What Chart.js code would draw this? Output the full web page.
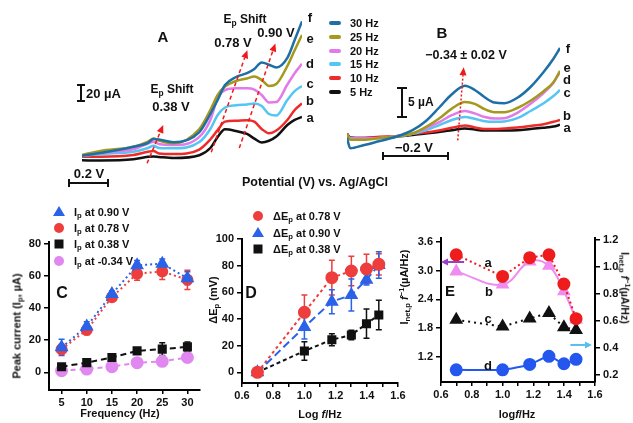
<!DOCTYPE html>
<html>
<head>
<meta charset="utf-8">
<script src="https://cdn.jsdelivr.net/npm/chart.js@4.4.0/dist/chart.umd.min.js"></script>
<style>
  html, body { margin: 0; padding: 0; background: #fff; }
  #fig { position: relative; width: 633px; height: 423px; overflow: hidden;
         font-family: "Liberation Sans", Arial, sans-serif; font-weight: bold; color: #111; }
  canvas { position: absolute; }
  .t { position: absolute; white-space: nowrap; transform: translate(-50%, -50%); line-height: 1; }
  .l { position: absolute; white-space: nowrap; transform: translate(0, -50%); line-height: 1; }
  .rl { transform: translate(-50%, -50%) rotate(-90deg); }
  .rr { transform: translate(-50%, -50%) rotate(90deg); }
  sub { font-size: 70%; vertical-align: -0.3em; line-height: 0; }
  sup { font-size: 70%; vertical-align: 0.5em; line-height: 0; }
  .sw { position: absolute; width: 12px; height: 4px; border-radius: 2px; transform: translate(0, -50%); }
  .mk { position: absolute; transform: translate(-50%, -50%); }
  .circ { width: 10px; height: 10px; border-radius: 50%; }
  .sq { width: 9px; height: 9px; }
  .tri { width: 0; height: 0; border-left: 6px solid transparent; border-right: 6px solid transparent; border-bottom: 10px solid; }
  .bar { position: absolute; background: #111; }
</style>
</head>
<body>
<div id="fig">
  <canvas id="cA" width="260" height="190" style="left:60px;top:0px"></canvas>
  <canvas id="cB" width="300" height="170" style="left:330px;top:0px"></canvas>
  <canvas id="cC" width="210" height="223" style="left:0px;top:200px"></canvas>
  <canvas id="cD" width="210" height="223" style="left:210px;top:200px"></canvas>
  <canvas id="cE" width="223" height="223" style="left:410px;top:200px"></canvas>

  <!-- panel A texts -->
  <div class="t" style="left:163px;top:36px;font-size:15px">A</div>
  <div class="bar" style="left:80px;top:84px;width:2px;height:18px"></div>
  <div class="bar" style="left:77px;top:84px;width:8px;height:2px"></div>
  <div class="bar" style="left:77px;top:100px;width:8px;height:2px"></div>
  <div class="l" style="left:86px;top:93px;font-size:13px">20 µA</div>
  <div class="t" style="left:89px;top:173px;font-size:13px">0.2 V</div>
  <div class="bar" style="left:68px;top:182px;width:40px;height:2px"></div>
  <div class="bar" style="left:68px;top:179px;width:2px;height:8px"></div>
  <div class="bar" style="left:107px;top:179px;width:2px;height:8px"></div>
  <div class="t" style="left:172px;top:89px;font-size:12px">E<sub>p</sub> Shift</div>
  <div class="t" style="left:171px;top:106px;font-size:13px">0.38 V</div>
  <div class="t" style="left:245px;top:19px;font-size:12px">E<sub>p</sub> Shift</div>
  <div class="t" style="left:233px;top:42px;font-size:13px">0.78 V</div>
  <div class="t" style="left:276px;top:32px;font-size:13px">0.90 V</div>
  <div class="t" style="left:310px;top:17px;font-size:13px">f</div>
  <div class="t" style="left:310px;top:38px;font-size:13px">e</div>
  <div class="t" style="left:310px;top:63px;font-size:13px">d</div>
  <div class="t" style="left:310px;top:83px;font-size:13px">c</div>
  <div class="t" style="left:310px;top:100px;font-size:13px">b</div>
  <div class="t" style="left:310px;top:117px;font-size:13px">a</div>

  <!-- panel B texts -->
  <div id="legB"></div>
  <div class="t" style="left:442px;top:32px;font-size:15px">B</div>
  <div class="t" style="left:466px;top:55px;font-size:12.5px">−0.34 ± 0.02 V</div>
  <div class="bar" style="left:401px;top:87px;width:2px;height:31px"></div>
  <div class="bar" style="left:397px;top:87px;width:10px;height:2px"></div>
  <div class="bar" style="left:397px;top:116px;width:10px;height:2px"></div>
  <div class="l" style="left:408px;top:102px;font-size:12px">5 µA</div>
  <div class="t" style="left:414px;top:147px;font-size:13px">−0.2 V</div>
  <div class="bar" style="left:382px;top:155px;width:67px;height:2px"></div>
  <div class="bar" style="left:382px;top:152px;width:2px;height:8px"></div>
  <div class="bar" style="left:447px;top:152px;width:2px;height:8px"></div>
  <div class="t" style="left:568px;top:48px;font-size:13px">f</div>
  <div class="t" style="left:567px;top:67px;font-size:13px">e</div>
  <div class="t" style="left:567px;top:79px;font-size:13px">d</div>
  <div class="t" style="left:567px;top:92px;font-size:13px">c</div>
  <div class="t" style="left:567px;top:115px;font-size:13px">b</div>
  <div class="t" style="left:567px;top:127px;font-size:13px">a</div>
  <div class="t" style="left:315px;top:182px;font-size:12.5px">Potential (V) vs. Ag/AgCl</div>

  <!-- panel C texts -->
  <div class="mk tri" style="left:59px;top:211px;color:#2a62e8"></div>
  <div class="l" style="left:74px;top:212px;font-size:11px">I<sub>p</sub> at 0.90 V</div>
  <div class="mk circ" style="left:59px;top:228px;background:#ee3d3d"></div>
  <div class="l" style="left:74px;top:228px;font-size:11px">I<sub>p</sub> at 0.78 V</div>
  <div class="mk sq" style="left:59px;top:244px;background:#111"></div>
  <div class="l" style="left:74px;top:244px;font-size:11px">I<sub>p</sub> at 0.38 V</div>
  <div class="mk circ" style="left:59px;top:261px;background:#e088f0"></div>
  <div class="l" style="left:74px;top:261px;font-size:11px">I<sub>p</sub> at -0.34 V</div>
  <div class="t" style="left:62px;top:293px;font-size:16px">C</div>
  <div class="t rl" style="left:17px;top:326px;font-size:11px">Peak current (I<sub>p</sub>, µA)</div>
  <div class="t" style="left:120px;top:413px;font-size:11px">Frequency (Hz)</div>

  <!-- panel D texts -->
  <div class="mk circ" style="left:258px;top:216px;background:#ee3d3d"></div>
  <div class="l" style="left:273px;top:216px;font-size:11px">ΔE<sub>p</sub> at 0.78 V</div>
  <div class="mk tri" style="left:258px;top:232px;color:#2a62e8"></div>
  <div class="l" style="left:273px;top:233px;font-size:11px">ΔE<sub>p</sub> at 0.90 V</div>
  <div class="mk sq" style="left:258px;top:249px;background:#111"></div>
  <div class="l" style="left:273px;top:249px;font-size:11px">ΔE<sub>p</sub> at 0.38 V</div>
  <div class="t" style="left:251px;top:293px;font-size:16px">D</div>
  <div class="t rl" style="left:213px;top:300px;font-size:11px">ΔE<sub>p</sub> (mV)</div>
  <div class="t" style="left:320px;top:414px;font-size:11px">Log <i>f</i>/Hz</div>

  <!-- panel E texts -->
  <div class="t" style="left:450px;top:290px;font-size:15px">E</div>
  <div class="t" style="left:488px;top:262px;font-size:13px">a</div>
  <div class="t" style="left:489px;top:291px;font-size:13px">b</div>
  <div class="t" style="left:488px;top:318px;font-size:13px">c</div>
  <div class="t" style="left:488px;top:365px;font-size:13px">d</div>
  <div class="t rl" style="left:404px;top:287px;font-size:11px">I<sub>net,p</sub> <i>f</i><sup>−1</sup>(µA/Hz)</div>
  <div class="t rr" style="left:625px;top:288px;font-size:10.5px">I<sub>net,p</sub> <i>f</i><sup>−1</sup>(µA/Hz)</div>
  <div class="t" style="left:517px;top:414px;font-size:11px">log<i>f</i>/Hz</div>
</div>

<script>
// ---- data: panel A (square-wave voltammograms, oxidation side) ----
const potA = [0, 0.10, 0.28, 0.36, 0.39, 0.42, 0.50, 0.64, 0.70, 0.74, 0.78, 0.84, 0.90, 0.94, 0.98, 1.02, 1.06, 1.12, 1.16, 1.20];
const curA5  = [5.5, 5.3, 6.7, 9.6, 10, 9.4, 8.2, 11.5, 20, 33, 42, 40, 36.5, 31, 26.5, 28.5, 33.5, 47, 53, 56.5];
const curA10 = [9.8, 9.8, 11.8, 15.6, 16.5, 13.5, 12.9, 18.2, 30, 41, 51, 52, 52.7, 51, 42.4, 37.3, 40.6, 53, 64.7, 72.4];
const curA15 = [10.6, 12.9, 15.6, 20, 22.7, 20, 19.6, 27, 42.4, 58.8, 67.6, 70.2, 71.2, 72.4, 69.4, 60, 58.2, 76.5, 87, 93];
const curA20 = [11.4, 14.5, 18.5, 25.3, 27.4, 24.7, 23.5, 33, 53, 78.8, 88.2, 90.2, 90.2, 88.8, 82.4, 73.5, 74, 94.7, 108, 119];
const curA25 = [11.8, 16.5, 21.5, 27.6, 31.2, 28.8, 25.5, 42.4, 64.7, 82.4, 92.4, 98.8, 101.8, 104, 100, 93, 95.3, 116.5, 135, 153];
const curA30 = [10.9, 14.1, 21.5, 26.1, 30.6, 30, 26.8, 38.8, 60, 76.5, 94, 103.5, 108, 113, 120.6, 118, 114.7, 126, 147, 169];

// ---- data: panel B (reduction side) ----
const potB = [-0.70, -0.69, -0.65, -0.60, -0.55, -0.50, -0.46, -0.42, -0.38, -0.34, -0.31, -0.28, -0.25, -0.22, -0.18, -0.14, -0.10, -0.07, -0.05];
const curB5  = [2.7, 2.1, 2, 2.1, 2.25, 2.5, 2.75, 3, 3.3, 3.6, 3.4, 3.25, 3.25, 3.25, 3.3, 3.5, 3.7, 3.9, 4.2];
const curB10 = [2.7, 2, 2, 2.2, 2.3, 2.7, 2.9, 3.25, 3.7, 4.1, 3.75, 3.5, 3.5, 3.6, 3.75, 4, 4.3, 4.7, 5];
const curB15 = [2.5, 2, 1.9, 2, 2.25, 2.7, 3.3, 4.1, 5, 5.5, 5.2, 4.8, 4.7, 4.75, 5.3, 6.5, 7.8, 9, 10];
const curB20 = [2.5, 1.9, 1.9, 2, 2.3, 2.75, 3.6, 4.6, 5.8, 6.5, 6.1, 5.5, 5.25, 5.3, 6.2, 7.7, 9.5, 11.2, 13];
const curB25 = [2.7, 1.7, 1.7, 2, 2.3, 2.75, 3.8, 5.2, 6.9, 8, 7.7, 6.8, 6.3, 6.3, 7, 8.2, 9.8, 11.3, 13.2];
const curB30 = [2, 0.3, 0.8, 1.5, 2.2, 3.3, 4.8, 7, 9.3, 10.7, 10, 8.8, 7.9, 7.8, 8.7, 10.5, 13, 15.2, 17];
const freqLabels = ["30 Hz", "25 Hz", "20 Hz", "15 Hz", "10 Hz", "5 Hz"];

// ---- data: panel C (peak current vs frequency) ----
const freq = [5, 10, 15, 20, 25, 30];
const ip090 = [15.5, 28.5, 48.7, 66.5, 67.5, 58.5];
const ip090Err = [5, 3, 2, 3, 3, 4];
const ip078 = [14.4, 26.3, 46.7, 61.3, 62.7, 57.5];
const ip078Err = [3, 3, 2, 4, 5, 6];
const ip038 = [3.5, 6, 9.2, 13.3, 14.4, 15.8];
const ip038Err = [1, 1, 1, 2, 4, 3];
const ipM034 = [1, 2, 3.5, 6, 6.8, 9.2];
const ipM034Err = [2, 2, 2, 3, 3, 3];
const cTicksX = [5, 10, 15, 20, 25, 30];
const cTicksY = [0, 20, 40, 60, 80];

// ---- data: panel D (peak shift vs log f) ----
const logF = [0.699, 1.0, 1.176, 1.301, 1.398, 1.477];
const dE078 = [0, 45, 71, 76, 77.5, 81];
const dE078Err = [0, 13, 13, 11, 11, 8];
const dE090 = [0, 34, 53, 58, 69.5, 80.5];
const dE090Err = [0, 9, 9, 12, 4, 10];
const dE038 = [0, 16, 24.5, 28, 36.5, 43];
const dE038Err = [0, 7, 4.5, 3.5, 11, 11];
const dTicksY = [0, 20, 40, 60, 80, 100];
const logTicks = [0.6, 0.7, 0.8, 0.9, 1.0, 1.1, 1.2, 1.3, 1.4, 1.5, 1.6];

// ---- data: panel E (I_net,p / f vs log f) ----
const eA = [3.33, 2.88, 3.27, 3.33, 2.72, 2.0];   // left axis
const eB = [2.98, 2.71, 3.19, 3.10, 2.57, 1.98];  // left axis
const eC = [0.61, 0.56, 0.62, 0.66, 0.555, 0.535]; // right axis
const eD = [0.24, 0.24, 0.28, 0.34, 0.285, 0.318]; // right axis
const eTicksL = [1.2, 1.8, 2.4, 3.0, 3.6];
const eTicksR = [0.2, 0.4, 0.6, 0.8, 1.0, 1.2];

// ---- styles ----
const curveColors = ["#1e6fa6", "#a39a1d", "#e27be9", "#55c5f2", "#ee2b2b", "#111111"];
const RED = "#ee3d3d", BLUE = "#2a62e8", BLACK = "#111111", VIOLET = "#e088f0";
const tickFont = { family: "Liberation Sans", size: 11, weight: "bold" };

const xy = (xs, ys) => xs.map((x, i) => ({ x: x, y: ys[i] }));

function axis(opt) {
  const horiz = opt.position === "bottom";
  return {
    type: "linear",
    position: opt.position,
    min: opt.min,
    max: opt.max,
    grid: { drawOnChartArea: false, drawTicks: true, tickLength: horiz ? 4 : 5, color: "#000", lineWidth: 1.5 },
    border: { display: true, color: "#000", width: 2 },
    ticks: { color: "#111", font: tickFont, padding: horiz ? 2 : 3, autoSkip: false, maxRotation: 0,
             callback: opt.fmt },
    afterBuildTicks: s => { s.ticks = opt.ticks.map(v => ({ value: v })); },
    afterFit: s => { if (s.isHorizontal()) s.height = opt.size; else s.width = opt.size; }
  };
}

// error bars drawn through the chart's own scales
const errorBars = {
  id: "errorBars",
  beforeDatasetsDraw(chart) {
    const ctx = chart.ctx;
    chart.data.datasets.forEach((ds, di) => {
      if (!ds.errors) return;
      const meta = chart.getDatasetMeta(di);
      const xs = chart.scales[meta.xAxisID], ys = chart.scales[meta.yAxisID];
      ctx.save();
      ctx.strokeStyle = ds.pointBackgroundColor;
      ctx.lineWidth = 1.5;
      ds.data.forEach((p, i) => {
        const e = ds.errors[i];
        if (!e) return;
        const x = xs.getPixelForValue(p.x);
        const y1 = ys.getPixelForValue(p.y + e), y2 = ys.getPixelForValue(p.y - e);
        ctx.beginPath();
        ctx.moveTo(x, y1); ctx.lineTo(x, y2);
        ctx.moveTo(x - 3, y1); ctx.lineTo(x + 3, y1);
        ctx.moveTo(x - 3, y2); ctx.lineTo(x + 3, y2);
        ctx.stroke();
      });
      ctx.restore();
    });
  }
};

// annotation arrows given in data units
const arrows = {
  id: "arrows",
  afterDatasetsDraw(chart, args, opts) {
    const ctx = chart.ctx;
    (opts.items || []).forEach(a => {
      const xs = chart.scales.x, ys = chart.scales[a.axis || "y"];
      const x1 = xs.getPixelForValue(a.from[0]), y1 = ys.getPixelForValue(a.from[1]);
      const x2 = xs.getPixelForValue(a.to[0]), y2 = ys.getPixelForValue(a.to[1]);
      const ang = Math.atan2(y2 - y1, x2 - x1), head = a.head || 8;
      const bx = x2 - head * Math.cos(ang), by = y2 - head * Math.sin(ang);
      ctx.save();
      ctx.strokeStyle = a.color; ctx.fillStyle = a.color;
      ctx.lineWidth = a.width || 1.5;
      ctx.setLineDash(a.dash || []);
      ctx.beginPath(); ctx.moveTo(x1, y1); ctx.lineTo(bx, by); ctx.stroke();
      ctx.setLineDash([]);
      ctx.beginPath();
      ctx.moveTo(x2, y2);
      ctx.lineTo(bx + 3.5 * Math.sin(ang), by - 3.5 * Math.cos(ang));
      ctx.lineTo(bx - 3.5 * Math.sin(ang), by + 3.5 * Math.cos(ang));
      ctx.closePath(); ctx.fill();
      ctx.restore();
    });
  }
};

const common = {
  responsive: false,
  animation: false,
  plugins: { legend: { display: false }, tooltip: { enabled: false } }
};

// Panel A
const setA = [curA30, curA25, curA20, curA15, curA10, curA5];
new Chart(document.getElementById("cA"), {
  type: "line",
  data: {
    datasets: setA.map((c, i) => ({
      label: freqLabels[i], data: xy(potA, c), borderColor: curveColors[i],
      borderWidth: 2.5, pointRadius: 0, cubicInterpolationMode: "monotone"
    }))
  },
  options: Object.assign({}, common, {
    layout: { padding: { left: 22, right: 18, top: 12, bottom: 25 } },
    scales: {
      x: { type: "linear", display: false, min: 0, max: 1.2 },
      y: { type: "linear", display: false, min: 0, max: 180 }
    },
    plugins: Object.assign({}, common.plugins, {
      arrows: { items: [
        { from: [0.355, 2], to: [0.443, 47], color: "#f01818", dash: [4, 3] },
        { from: [0.705, 15], to: [0.902, 135], color: "#f01818", dash: [4, 3] },
        { from: [0.858, 20], to: [1.055, 143], color: "#f01818", dash: [4, 3] }
      ] }
    })
  }),
  plugins: [arrows]
});

// Panel B
const setB = [curB30, curB25, curB20, curB15, curB10, curB5];
new Chart(document.getElementById("cB"), {
  type: "line",
  data: {
    datasets: setB.map((c, i) => ({
      label: freqLabels[i], data: xy(potB, c), borderColor: curveColors[i],
      borderWidth: 2.5, pointRadius: 0, cubicInterpolationMode: "monotone"
    }))
  },
  options: Object.assign({}, common, {
    layout: { padding: { left: 17, right: 70, top: 30, bottom: 20 } },
    scales: {
      x: { type: "linear", display: false, min: -0.70, max: -0.05 },
      y: { type: "linear", display: false, min: 0, max: 20 }
    },
    plugins: Object.assign({}, common.plugins, {
      arrows: { items: [
        { from: [-0.362, 1.6], to: [-0.344, 13.8], color: "#f01818", dash: [2, 2], width: 1.5 }
      ] }
    })
  }),
  plugins: [arrows]
});

// legend of panels A/B
const legB = document.getElementById("legB");
freqLabels.forEach((lab, i) => {
  const y = 23 + i * 13.8;
  legB.insertAdjacentHTML("beforeend",
    '<div class="sw" style="left:329px;top:' + y + 'px;background:' + curveColors[i] + '"></div>' +
    '<div class="l" style="left:350px;top:' + y + 'px;font-size:11px">' + lab + '</div>');
});

// Panel C
function markerSet(label, xs, ys, errs, color, style, dash, radius) {
  return {
    label: label, data: xy(xs, ys), errors: errs,
    borderColor: color, pointBackgroundColor: color, pointBorderColor: color,
    pointStyle: style, pointRadius: radius, borderDash: dash, borderWidth: 2, tension: 0
  };
}
new Chart(document.getElementById("cC"), {
  type: "line",
  data: { datasets: [
    markerSet("Ip at 0.90 V", freq, ip090, ip090Err, BLUE, "triangle", [2, 3], 6),
    markerSet("Ip at 0.78 V", freq, ip078, ip078Err, RED, "circle", [2, 3], 5),
    markerSet("Ip at 0.38 V", freq, ip038, ip038Err, BLACK, "rect", [6, 4], 5),
    markerSet("Ip at -0.34 V", freq, ipM034, ipM034Err, VIOLET, "circle", [5, 4], 5.5)
  ] },
  options: Object.assign({}, common, {
    layout: { padding: { left: 0, right: 10, top: 42, bottom: 0 } },
    scales: {
      x: axis({ position: "bottom", min: 2.5, max: 32.5, ticks: cTicksX, size: 33, fmt: v => String(v) }),
      y: axis({ position: "left", min: -11, max: 81, ticks: cTicksY, size: 49, fmt: v => String(v) })
    }
  }),
  plugins: [errorBars]
});

// Panel D
const logFmt = v => (Math.round(v * 10) % 2 === 0 ? v.toFixed(1) : "");
new Chart(document.getElementById("cD"), {
  type: "line",
  data: { datasets: [
    markerSet("dEp at 0.78 V", logF, dE078, dE078Err, RED, "circle", [3, 3], 5.5),
    markerSet("dEp at 0.90 V", logF, dE090, dE090Err, BLUE, "triangle", [8, 4], 6),
    markerSet("dEp at 0.38 V", logF, dE038, dE038Err, BLACK, "rect", [4, 3], 5)
  ] },
  options: Object.assign({}, common, {
    layout: { padding: { left: 0, right: 22, top: 39, bottom: 0 } },
    scales: {
      x: axis({ position: "bottom", min: 0.6, max: 1.6, ticks: logTicks, size: 40, fmt: logFmt }),
      y: axis({ position: "left", min: -8, max: 100, ticks: dTicksY, size: 32, fmt: v => String(v) })
    }
  }),
  plugins: [errorBars]
});

// Panel E
function eSet(label, ys, color, style, dash, radius, axisId, tension) {
  return {
    label: label, data: xy(logF, ys), yAxisID: axisId,
    borderColor: color, pointBackgroundColor: color, pointBorderColor: color,
    pointStyle: style, pointRadius: radius, borderDash: dash, borderWidth: 2, tension: tension
  };
}
new Chart(document.getElementById("cE"), {
  type: "line",
  data: { datasets: [
    eSet("a", eA, "#ee1c1c", "circle", [2, 3], 5.5, "y", 0),
    eSet("b", eB, "#f08cf0", "triangle", [], 6, "y", 0.4),
    eSet("c", eC, BLACK, "triangle", [2, 4], 6, "y2", 0),
    eSet("d", eD, "#2457ee", "circle", [], 5.5, "y2", 0.2)
  ] },
  options: Object.assign({}, common, {
    layout: { padding: { left: 0, right: 0, top: 38, bottom: 0 } },
    scales: {
      x: axis({ position: "bottom", min: 0.6, max: 1.6, ticks: logTicks, size: 41, fmt: logFmt }),
      y: axis({ position: "left", min: 0.68, max: 3.68, ticks: eTicksL, size: 31, fmt: v => v.toFixed(1) }),
      y2: axis({ position: "right", min: 0.15, max: 1.215, ticks: eTicksR, size: 38, fmt: v => v.toFixed(1) })
    },
    plugins: Object.assign({}, common.plugins, {
      arrows: { items: [
        { from: [0.75, 3.18], to: [0.6, 3.18], color: "#9a3fc9", width: 2, head: 7 },
        { from: [1.44, 0.424], to: [1.58, 0.424], axis: "y2", color: "#5bbcef", width: 2, head: 7 }
      ] }
    })
  }),
  plugins: [arrows]
});
</script>
</body>
</html>
